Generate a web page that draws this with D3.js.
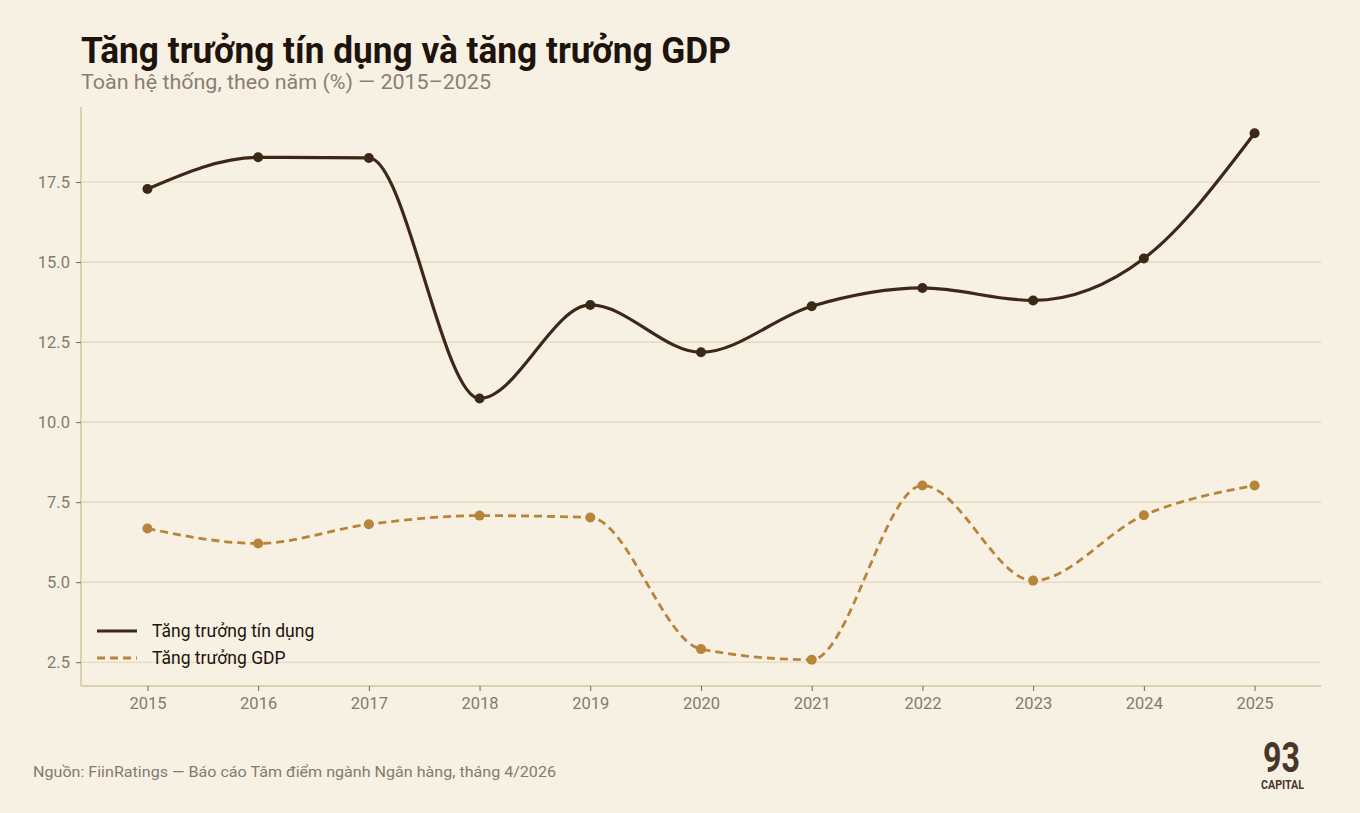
<!DOCTYPE html>
<html>
<head>
<meta charset="utf-8">
<script src="https://cdn.jsdelivr.net/npm/d3@7"></script>
<style>
  html, body { margin: 0; padding: 0; background: #f7f1e4; }
  svg { display: block; font-family: Roboto, "Noto Sans", sans-serif; }
</style>
</head>
<body>
<svg id="chart" width="1360" height="813"></svg>
<script>
// data
var years = [2015, 2016, 2017, 2018, 2019, 2020, 2021, 2022, 2023, 2024, 2025];
var creditGrowth = [17.28, 18.27, 18.25, 10.74, 13.66, 12.18, 13.62, 14.19, 13.8, 15.11, 19.02];
var gdpGrowth = [6.68, 6.21, 6.81, 7.08, 7.02, 2.91, 2.58, 8.02, 5.05, 7.09, 8.02];
var yTicks = [2.5, 5.0, 7.5, 10.0, 12.5, 15.0, 17.5];
var seriesNames = ["Tăng trưởng tín dụng", "Tăng trưởng GDP"];

var bg = "#f7f1e4", gridCol = "#e0d4b9", axisCol = "#ddd0b2", tickText = "#857a6e";
var creditCol = "#3d2817", gdpCol = "#b8843a";

var svg = d3.select("#chart");
svg.append("rect").attr("width", 1360).attr("height", 813).attr("fill", bg);

var plotL = 81, plotR = 1321, plotT = 107, plotB = 686;

var allVals = creditGrowth.concat(gdpGrowth);
var lo = d3.min(allVals), hi = d3.max(allVals), pad = (hi - lo) * 0.05;

var x = d3.scaleLinear().domain([2014.4, 2025.6]).range([plotL, plotR]);
var y = d3.scaleLinear().domain([lo - pad, hi + pad]).range([plotB, plotT]);

// grid
svg.append("g").selectAll("line").data(yTicks).join("line")
  .attr("x1", plotL).attr("x2", plotR)
  .attr("y1", function(d){ return y(d); }).attr("y2", function(d){ return y(d); })
  .attr("stroke", gridCol).attr("stroke-width", 1.2);

// axes
var yAxis = svg.append("g").attr("transform", "translate(" + plotL + ",0)")
  .call(d3.axisLeft(y).tickValues(yTicks).tickFormat(d3.format(".1f")).tickSize(5).tickPadding(6));
var xAxis = svg.append("g").attr("transform", "translate(0," + plotB + ")")
  .call(d3.axisBottom(x).tickValues(years).tickFormat(d3.format("d")).tickSize(5).tickPadding(6));
[yAxis, xAxis].forEach(function(a){
  a.select(".domain").attr("stroke", axisCol).attr("stroke-width", 2);
  a.selectAll(".tick line").attr("stroke", "#6f665c").attr("stroke-width", 1);
  a.selectAll(".tick text").attr("fill", tickText).style("font-size", "16.5px").style("font-family", "Roboto");
});
yAxis.select(".domain").attr("d", "M0," + plotT + "V" + plotB);
xAxis.select(".domain").attr("d", "M" + plotL + ",0H" + plotR);

var line = function(vals){
  return d3.line().x(function(d, i){ return x(years[i]); }).y(function(d){ return y(d); })
    .curve(d3.curveMonotoneX)(vals);
};

svg.append("path").attr("d", line(creditGrowth)).attr("fill", "none")
  .attr("stroke", creditCol).attr("stroke-width", 3.2);
svg.append("path").attr("d", line(gdpGrowth)).attr("fill", "none")
  .attr("stroke", gdpCol).attr("stroke-width", 2.8).attr("stroke-dasharray", "8,5");

svg.append("g").selectAll("circle").data(creditGrowth).join("circle")
  .attr("cx", function(d, i){ return x(years[i]); }).attr("cy", function(d){ return y(d); })
  .attr("r", 5).attr("fill", creditCol);
svg.append("g").selectAll("circle").data(gdpGrowth).join("circle")
  .attr("cx", function(d, i){ return x(years[i]); }).attr("cy", function(d){ return y(d); })
  .attr("r", 5).attr("fill", gdpCol);

// legend
var leg = svg.append("g");
[[creditCol, null, 3.2], [gdpCol, "8,5", 2.8]].forEach(function(s, i){
  var ly = 631 + i * 27;
  leg.append("line").attr("x1", 97).attr("x2", 137).attr("y1", ly).attr("y2", ly)
    .attr("stroke", s[0]).attr("stroke-width", s[2]).attr("stroke-dasharray", s[1]);
  leg.append("text").attr("x", 152).attr("y", ly + 6).text(seriesNames[i])
    .attr("fill", "#1f140c").style("font-size", "17.5px");
});

// titles
svg.append("text").attr("x", 81).attr("y", 63).text("Tăng trưởng tín dụng và tăng trưởng GDP")
  .attr("fill", "#1f140c").style("font-size", "36px").style("font-weight", "700")
  .attr("textLength", 650).attr("lengthAdjust", "spacingAndGlyphs");
svg.append("text").attr("x", 81).attr("y", 89).text("Toàn hệ thống, theo năm (%) — 2015–2025")
  .attr("fill", "#8a7e72").style("font-size", "20px")
  .attr("textLength", 410).attr("lengthAdjust", "spacingAndGlyphs");

// source
svg.append("text").attr("x", 33).attr("y", 777).text("Nguồn: FiinRatings — Báo cáo Tâm điểm ngành Ngân hàng, tháng 4/2026")
  .attr("fill", tickText).style("font-size", "15px")
  .attr("textLength", 523).attr("lengthAdjust", "spacingAndGlyphs");

// logo
svg.append("text").attr("x", 1263).attr("y", 772).text("93")
  .attr("fill", "#4a3628").style("font-size", "42px").style("font-weight", "700")
  .attr("textLength", 37).attr("lengthAdjust", "spacingAndGlyphs");
svg.append("text").attr("x", 1261).attr("y", 789).text("CAPITAL")
  .attr("fill", "#4a3628").style("font-size", "13px").style("font-weight", "700")
  .attr("textLength", 43).attr("lengthAdjust", "spacingAndGlyphs");
</script>
</body>
</html>
